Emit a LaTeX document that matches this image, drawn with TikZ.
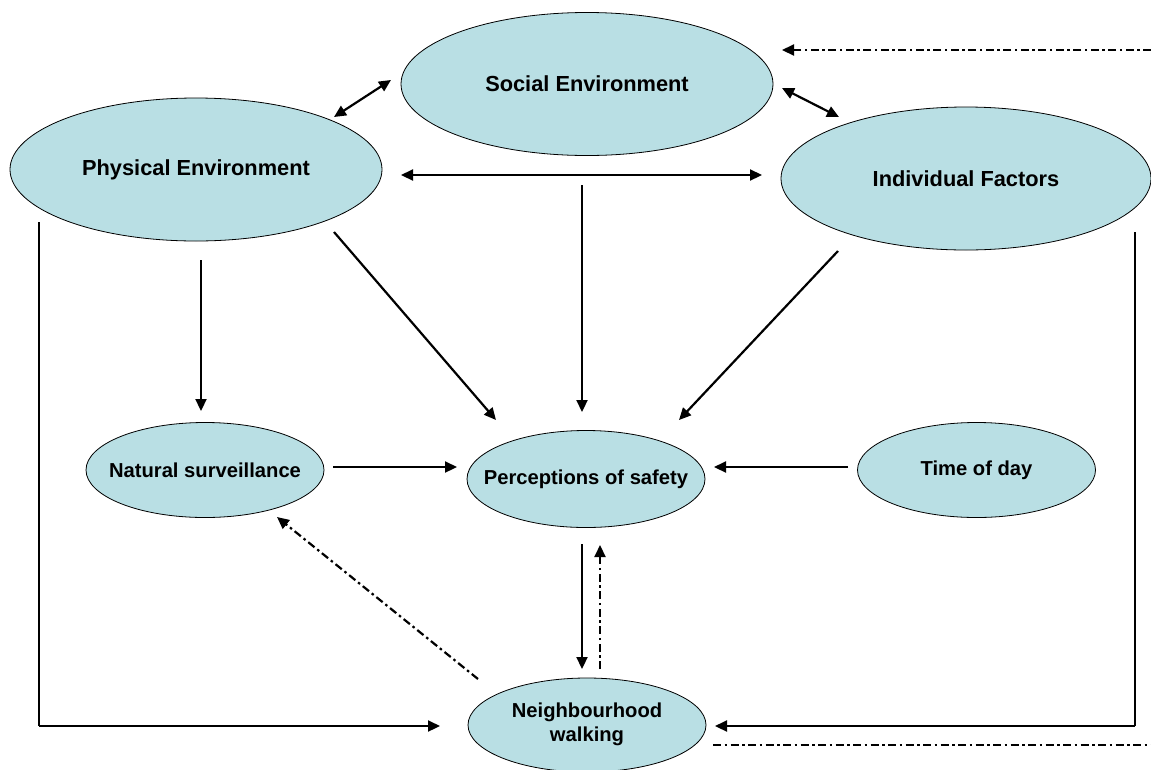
\documentclass[tikz,border=0pt]{standalone}
\usepackage{fontspec}
\setmainfont{Liberation Sans}
\usetikzlibrary{shapes.geometric,arrows.meta,calc}
\definecolor{bubble}{RGB}{185,223,228}
\tikzset{
  bub/.style={ellipse, draw=black, line width=0.8pt, fill=bubble, inner sep=0pt},
  bigbub/.style={bub, minimum width=372pt, minimum height=143pt,
                 font=\fontsize{21.8}{25}\selectfont\bfseries},
  smallbub/.style={bub, minimum width=238pt, minimum height=95pt,
                   font=\fontsize{20.2}{24}\selectfont\bfseries},
  link/.style={line width=2.2pt, -{Triangle[length=12pt,width=11pt]}},
  twoway/.style={line width=2.2pt, {Triangle[length=12pt,width=11pt]}-{Triangle[length=12pt,width=11pt]}},
  dashdot/.style={line width=2.2pt, dash pattern=on 8pt off 3.5pt on 2.5pt off 3.5pt},
  thinline/.style={line width=1.1pt},
}
% zero-width box so the label does not widen its ellipse
\newcommand{\lbl}[1]{\makebox[0pt]{#1}}
\begin{document}
\begin{tikzpicture}[x=1pt, y=-1pt]
  \fill[white] (0,0) rectangle (1151,769);
  \useasboundingbox (0,0) rectangle (1151,769);

  % ellipses
  \node[bigbub]   (soc)  at (587,84)    {\lbl{Social Environment}};
  \node[bigbub]   (phys) at (196,169.5) {\lbl{Physical Environment}};
  \node[bigbub, minimum width=370pt] (ind) at (966,178.5) {\lbl{Individual Factors}};
  \node[smallbub] (nat)  at (205,470)   {\lbl{Natural surveillance}};
  \node[smallbub, minimum height=97pt] (per) at (586,479) {\lbl{Perceptions of safety}};
  \node[smallbub] (tod)  at (976.5,470) {\lbl{Time of day}};
  \node[smallbub, minimum height=94pt] (walk) at (587,725)
       {\lbl{\begin{tabular}{@{}c@{}}Neighbourhood\\walking\end{tabular}}};

  % two-way links among the three groups of factors
  \draw[twoway] ($(phys)+(138,-52.5)$) -- ($(soc)+(-196,-4)$);
  \draw[twoway] ($(soc)+(195,4)$) -- ($(ind)+(-127,-61.5)$);
  \draw[twoway] ($(phys)+(205,5.5)$) -- ($(ind)+(-204,-3.5)$);

  % influences on perceptions of safety
  \draw[link] ($(soc)+(-5,101)$) -- ($(per)+(-4,-67)$);
  \draw[link] ($(phys)+(138,62.5)$) -- ($(per)+(-90,-59)$);
  \draw[link] ($(ind)+(-128,72.5)$) -- ($(per)+(93,-59)$);
  \draw[link] ($(phys)+(5,90.5)$) -- ($(nat)+(-4,-59)$);
  \draw[link] ($(nat)+(128,-3)$) -- ($(per)+(-129,-12)$);
  \draw[link] ($(tod)+(-128.5,-3)$) -- ($(per)+(128,-12)$);

  % perceptions and walking
  \draw[link] ($(per)+(-4,65)$) -- ($(walk)+(-5,-56)$);
  \draw[dashdot, -{Triangle[length=12pt,width=11pt]}] ($(walk)+(13,-56)$) -- ($(per)+(14,66)$);
  \draw[dashdot, -{Triangle[length=12pt,width=11pt]}] ($(walk)+(-109,-46)$) -- ($(nat)+(72,47)$);

  % elbow connectors into walking
  \coordinate (ltop) at (39,222);
  \coordinate (lbot) at (39,726);
  \coordinate (rtop) at (1135,232);
  \coordinate (rbot) at (1135,726);
  \draw[thinline] (ltop) -- (lbot);
  \draw[link] (lbot) -- ($(walk)+(-147,1)$);
  \draw[thinline] (rtop) -- (rbot);
  \draw[link] (rbot) -- ($(walk)+(128,1)$);

  % feedback lines at the edges
  \coordinate (topend) at (1151,50);
  \coordinate (botend) at (1151,745);
  \draw[dashdot, -{Triangle[length=12pt,width=11pt]}] (topend) -- ($(soc)+(195,-34)$);
  \draw[dashdot, line width=1.7pt] ($(walk)+(126,20)$) -- (botend);
\end{tikzpicture}
\end{document}
